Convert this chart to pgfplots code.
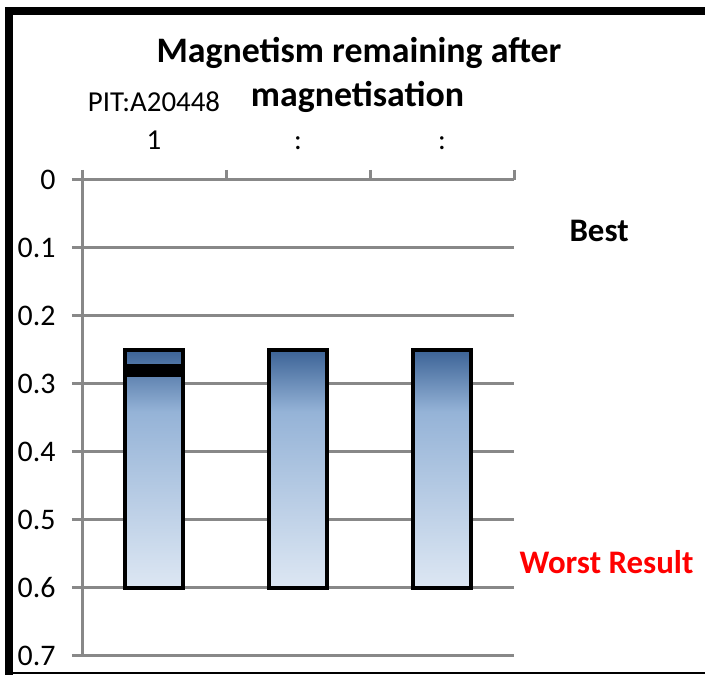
\documentclass[border=0pt]{standalone}
\usepackage{fontspec}
\setmainfont{Carlito}
\usepackage{pgfplots}
\pgfplotsset{compat=1.18}
\definecolor{gridgray}{RGB}{136,136,136}
\definecolor{bartop}{RGB}{60,99,150}
\definecolor{barmid}{RGB}{149,179,215}
\definecolor{barbot}{RGB}{221,231,243}
\definecolor{worstred}{RGB}{255,0,0}
\pgfdeclareverticalshading{barshade}{100bp}{color(0bp)=(barbot); color(25bp)=(barbot);
  color(62bp)=(barmid); color(75bp)=(bartop); color(100bp)=(bartop)}
\begin{document}
\begin{tikzpicture}[x=1bp,y=1bp]
\useasboundingbox (0,0) rectangle (705,675);
% frame
\draw[line width=8bp] (9,0) -- (9,664) -- (705,664);
\draw[line width=1.5bp] (9,2) -- (705,2);
\begin{axis}[
    at={(82bp,495bp)}, anchor=north west,
    scale only axis, width=432bp, height=476bp,
    xmin=0, xmax=3, ymin=0, ymax=0.7, y dir=reverse,
    axis x line*=top, axis y line*=left,
    axis line style={gridgray, line width=3bp},
    tick style={gridgray, line width=3bp},
    major tick length=10bp, tick align=outside,
    ymajorgrids, grid style={gridgray, line width=3bp},
    xtick={0,1,2,3}, x tick label as interval,
    xticklabels={{PIT:A20448\\1},{:},{:}},
    xticklabel style={align=center, font=\fontsize{29}{38}\selectfont, yshift=17bp},
    ytick={0,0.1,0.2,0.3,0.4,0.5,0.6,0.7},
    yticklabels={0,0.1,0.2,0.3,0.4,0.5,0.6,0.7},
    yticklabel style={font=\fontsize{30}{32}\selectfont, xshift=-13bp},
    /pgf/number format/assume math mode=true,
    ybar stacked, bar width=0.4,
]
\addplot[draw=none, fill=none] coordinates {(0.5,0.25)(1.5,0.25)(2.5,0.25)};
\addplot[draw=black, line width=4bp, shading=barshade]
    coordinates {(0.5,0.35)(1.5,0.35)(2.5,0.35)};
\end{axis}
\begin{axis}[
    at={(82bp,495bp)}, anchor=north west,
    scale only axis, width=432bp, height=476bp,
    xmin=0, xmax=3, ymin=0, ymax=0.7, y dir=reverse,
    hide axis, ybar stacked, bar width=0.4,
]
\addplot[draw=none, fill=none] coordinates {(0.5,0.2735)};
\addplot[fill=black, draw=black, line width=4bp] coordinates {(0.5,0.014)};
\end{axis}
\node[font=\fontsize{36}{45}\selectfont\bfseries, anchor=base] at (359,612) {Magnetism remaining after};
\node[font=\fontsize{36}{45}\selectfont\bfseries, anchor=base] at (357.5,568) {magnetisation};
\node[font=\fontsize{33}{38}\selectfont\bfseries, anchor=base west] at (566,433) {Best};
\node[font=\fontsize{33}{38}\selectfont\bfseries, text=worstred, anchor=base west] at (516,101) {Worst Result};
\end{tikzpicture}
\end{document}
